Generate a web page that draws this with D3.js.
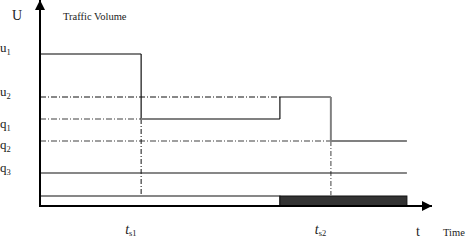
<!DOCTYPE html>
<html><head><meta charset="utf-8">
<script src="https://cdn.jsdelivr.net/npm/d3@7"></script>
<style>body{margin:0;background:#fff}svg{display:block}text{font-family:"Liberation Serif","DejaVu Serif",serif;fill:#222}</style>
</head><body>
<script>
// Level values (traffic volume units)
const levelNames = ["u1","u2","q1","q2","q3"];
const levelValues = [7.6, 5.45, 4.35, 3.25, 1.65];
const barTop = 0.5;
// Time points
const timeNames = ["start","ts1","tStep","ts2","end"];
const timeValues = [0, 25.8, 61.2, 74.2, 93.6];
const timeLabels = [{base:"t", sub:"s1", at:"ts1"},{base:"t", sub:"s2", at:"ts2"}];

const W=468,H=240;
const svg=d3.select("body").append("svg").attr("width",W).attr("height",H);
const x=d3.scaleLinear().domain([0,100]).range([40,432]);
const y=d3.scaleLinear().domain([0,10]).range([206,6]);
const L=Object.fromEntries(levelNames.map((n,i)=>[n,levelValues[i]]));
const T=Object.fromEntries(timeNames.map((n,i)=>[n,timeValues[i]]));
const dashDot="6,2,1,2";
const grey="#808080";

function seg(x1,y1,x2,y2,stroke,w,dash){
  svg.append("line").attr("x1",x(x1)).attr("y1",y(y1)).attr("x2",x(x2)).attr("y2",y(y2))
   .attr("stroke",stroke).attr("stroke-width",w).attr("stroke-dasharray",dash||null);
}
// Bar (white / dark)
svg.append("rect").attr("x",x(T.start)).attr("y",y(barTop)).attr("width",x(T.tStep)-x(T.start)).attr("height",y(0)-y(barTop))
  .attr("fill","#fff").attr("stroke","#111").attr("stroke-width",1);
svg.append("rect").attr("x",x(T.tStep)).attr("y",y(barTop)).attr("width",x(T.end)-x(T.tStep)).attr("height",y(0)-y(barTop))
  .attr("fill","#333").attr("stroke","#111").attr("stroke-width",1);

// dash-dot reference lines
seg(T.start,L.u2,T.tStep,L.u2,"#111",1,dashDot);
seg(T.start,L.q1,T.ts1,L.q1,grey,1.5,dashDot);
seg(T.start,L.q2,T.ts2,L.q2,grey,1.5,dashDot);
seg(T.ts1,L.q1,T.ts1,barTop,"#111",1,"5,2,1,2");
seg(T.ts2,L.q2,T.ts2,barTop,grey,1.5,"5,2,1,2");
// q3 solid
seg(T.start,L.q3,T.end,L.q3,"#111",1.2);
// step line
seg(T.start,L.u1,T.ts1,L.u1,grey,2);
seg(T.ts1,L.u1,T.ts1,L.q1,"#111",1.2);
seg(T.ts1,L.q1,T.tStep,L.q1,grey,2);
seg(T.tStep,L.q1,T.tStep,L.u2,"#111",1.2);
seg(T.tStep,L.u2,T.ts2,L.u2,"#111",1.2);
seg(T.ts2,L.u2,T.ts2,L.q2,grey,2);
seg(T.ts2,L.q2,T.end,L.q2,grey,2);

// axes
svg.append("defs").append("marker").attr("id","arr").attr("viewBox","0 0 10 10").attr("refX",10).attr("refY",5)
  .attr("markerWidth",10).attr("markerHeight",10).attr("markerUnits","userSpaceOnUse").attr("orient","auto")
  .append("path").attr("d","M0,0L10,5L0,10Z").attr("fill","#000");
svg.append("line").attr("x1",x(0)).attr("y1",y(0)).attr("x2",x(100)).attr("y2",y(0)).attr("stroke","#000").attr("stroke-width",2).attr("marker-end","url(#arr)");
svg.append("line").attr("x1",x(0)).attr("y1",y(0)+1).attr("x2",x(0)).attr("y2",0).attr("stroke","#000").attr("stroke-width",2).attr("marker-end","url(#arr)");

// texts
svg.append("text").attr("x",12).attr("y",20).attr("font-size",14).text("U");
svg.append("text").attr("x",63).attr("y",20).attr("font-size",10.5).text("Traffic Volume");
svg.append("text").attr("x",443).attr("y",236).attr("font-size",10.5).text("Time");
svg.append("text").attr("x",416).attr("y",236).attr("font-size",14).text("t");
const labOff={u1:-2,u2:-1,q1:9,q2:8,q3:-1};
levelNames.forEach(n=>{
  const t=svg.append("text").attr("x",0).attr("y",y(L[n])+labOff[n]).attr("font-size",13);
  t.append("tspan").text(n[0]);
  t.append("tspan").attr("font-size",8.5).attr("dy",3).text(n.slice(1));
});
timeLabels.forEach(d=>{
  const t=svg.append("text").attr("x",x(T[d.at])-16).attr("y",234).attr("font-size",14);
  t.append("tspan").attr("font-style","italic").text(d.base);
  t.append("tspan").attr("font-size",8.5).attr("dy",2).text(d.sub);
});
</script>
</body></html>
